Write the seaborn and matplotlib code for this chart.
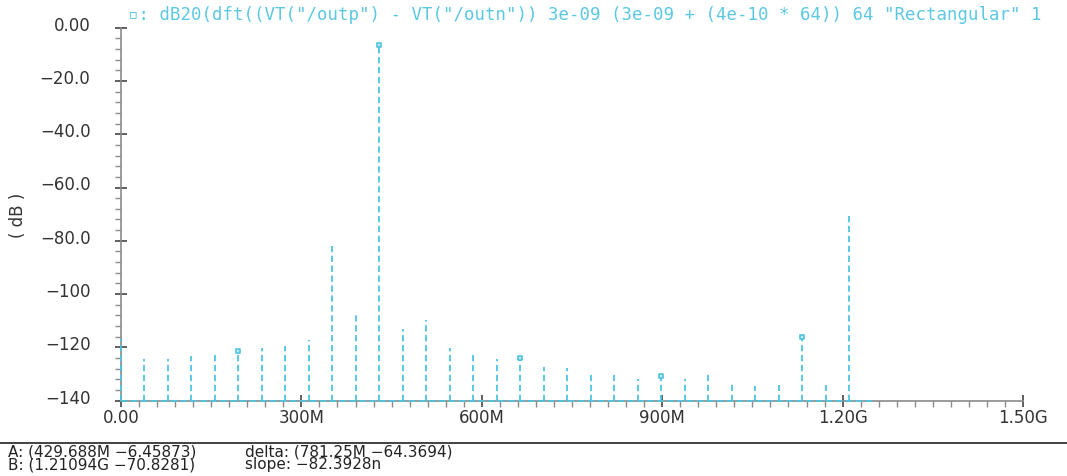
#!/usr/bin/env python3

import numpy as np
import pandas as pd
import seaborn as sns
import matplotlib.pyplot as plt
from matplotlib.lines import Line2D
from matplotlib.ticker import MultipleLocator, FixedLocator
from matplotlib import transforms

# DFT bins (MHz) and magnitude (dB)
freq_mhz = [0, 39.06, 78.13, 117.19, 156.25, 195.31, 234.38, 273.44, 312.5,
            351.56, 390.63, 429.69, 468.75, 507.81, 546.88, 585.94, 625,
            664.06, 703.13, 742.19, 781.25, 820.31, 859.38, 898.44, 937.5,
            976.56, 1015.63, 1054.69, 1093.75, 1132.81, 1171.88, 1210.94, 1250]
mag_db = [-116.8, -124.4, -124.4, -123.3, -122.5, -121.2, -120.3, -119.5,
          -117.1, -81.8, -107.5, -6.46, -113.1, -109.7, -120.3, -122.9,
          -124.4, -123.8, -127.4, -127.8, -129.2, -130.5, -131.7, -130.8,
          -131.7, -130.1, -133.0, -134.6, -134.1, -116.0, -134.1, -70.83,
          np.nan]
marker_bins = [5, 11, 17, 23, 29]

x_ticks = [0, 300, 600, 900, 1200, 1500]
x_labels = ["0.00", "300M", "600M", "900M", "1.20G", "1.50G"]
y_ticks = [0, -20, -40, -60, -80, -100, -120, -140]
y_labels = ["0.00", "\u221220.0", "\u221240.0", "\u221260.0", "\u221280.0",
            "\u2212100", "\u2212120", "\u2212140"]

# the reference window cuts the expression off after the "1"
title = ('\u25ab: dB20(dft((VT("/outp") - VT("/outn")) 3e-09 (3e-09 + '
         '(4e-10 * 64)) 64 "Rectangular" 1')
cursor_a = "A: (429.688M \u22126.45873)"
cursor_b = "B: (1.21094G \u221270.8281)"
delta = "delta: (781.25M \u221264.3694)"
slope = "slope: \u221282.3928n"

CYAN = "#4fc4e0"
GREY = "#8a8a8a"
TXT = "#333333"

df = pd.DataFrame({"freq": freq_mhz, "db": mag_db})
marks = df.iloc[marker_bins]

sns.set_style("white")
plt.rcParams["font.family"] = ["DejaVu Sans"]

fig = plt.figure(figsize=(10.67, 4.77), dpi=100)
W, H = 1067, 477
ax = fig.add_axes([121 / W, 1 - 401.7 / H, (1023 - 121) / W, (401.7 - 28.6) / H])

# stems (DC stem sits right on the y axis, so don't clip)
ax.vlines(df["freq"], -140, df["db"], colors=CYAN, linestyles=(0, (3.5, 2)),
          linewidth=1.3, zorder=3, clip_on=False)
ax.hlines(-140, df["freq"].iloc[0], df["freq"].iloc[-1], colors=CYAN,
          linestyles=(0, (3.5, 2)), linewidth=1.3, zorder=4, clip_on=False)
sns.scatterplot(data=marks, x="freq", y="db", ax=ax, marker="s", s=11,
                facecolor="#bfeaf5", edgecolor=CYAN, linewidth=1.2, zorder=5)

ax.set_xlim(0, 1500)
ax.set_ylim(-140, 0)
ax.set_xlabel("")
ax.set_ylabel("")

for side in ["top", "right"]:
    ax.spines[side].set_visible(False)
for side in ["left", "bottom"]:
    ax.spines[side].set_color(GREY)
    ax.spines[side].set_linewidth(1.2)

ax.xaxis.set_major_locator(FixedLocator(x_ticks))
ax.set_xticklabels(x_labels)
ax.xaxis.set_minor_locator(MultipleLocator(30))
ax.yaxis.set_major_locator(FixedLocator(y_ticks))
ax.set_yticklabels(y_labels)
ax.yaxis.set_minor_locator(MultipleLocator(4))

ax.tick_params(which="major", direction="inout", length=8, width=1.2,
               color="#444444", labelsize=12, labelcolor=TXT)
ax.tick_params(which="minor", direction="out", length=4, width=1,
               color=GREY)
ax.tick_params(axis="x", which="major", pad=1)
ax.tick_params(axis="y", which="major", pad=18)
ax.tick_params(bottom=True, left=True, which="both")

shift = transforms.ScaledTranslation(0, 5 / 100, fig.dpi_scale_trans)
for lab in ax.get_yticklabels():
    lab.set_transform(lab.get_transform() + shift)

fig.text(18 / W, 1 - 215 / H, "( dB )", rotation=90, fontsize=12,
         color=TXT, ha="center", va="center")

fig.text(128 / W, 1 - 15 / H, title, fontsize=12.5, color="#5cc8e2",
         family=["DejaVu Sans Mono", "DejaVu Sans"], ha="left", va="center")

fig.add_artist(Line2D([0, 1], [1 - 444 / H, 1 - 444 / H], color="#222222",
                      linewidth=1.2, transform=fig.transFigure))
for x, y, s in [(8, 452, cursor_a), (8, 465, cursor_b),
                (245, 452, delta), (245, 465, slope)]:
    fig.text(x / W, 1 - y / H, s, fontsize=11, color="#222222",
             ha="left", va="center")

fig.savefig("out.png", dpi=100)
